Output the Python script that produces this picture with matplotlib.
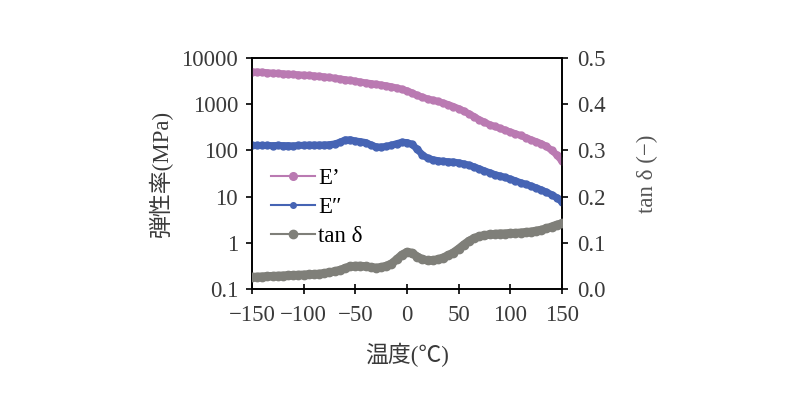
import matplotlib
matplotlib.use("Agg")
import matplotlib.pyplot as plt
from matplotlib.lines import Line2D

plt.rcParams['font.family'] = ['Liberation Serif', 'Noto Sans CJK JP', 'DejaVu Sans']
plt.rcParams['axes.unicode_minus'] = True

temperature = [-150, -145, -140, -135, -130, -125, -120, -115, -110, -105,
               -100, -95, -90, -85, -80, -75, -70, -65, -60, -55,
               -50, -45, -40, -35, -30, -25, -20, -15, -10, -5,
               0, 5, 10, 15, 20, 25, 30, 35, 40, 45,
               50, 55, 60, 65, 70, 75, 80, 85, 90, 95,
               100, 105, 110, 115, 120, 125, 130, 135, 140, 145, 150]

e_storage = [5000, 4950, 4900, 4800, 4700, 4620, 4550, 4480, 4400, 4320,
             4250, 4180, 4100, 4000, 3900, 3780, 3650, 3520, 3400, 3280,
             3150, 3020, 2900, 2800, 2700, 2600, 2500, 2380, 2250, 2100,
             1950, 1750, 1550, 1420, 1300, 1220, 1150, 1060, 980, 890,
             800, 710, 620, 540, 460, 410, 360, 330, 300, 275,
             250, 230, 210, 190, 170, 155, 140, 122, 100, 80, 58]

e_loss = [128, 128, 128, 128, 127, 128, 127, 127, 125, 128,
          129, 130, 130, 130, 131, 133, 138, 150, 168, 170,
          160, 155, 148, 132, 120, 118, 122, 130, 140, 150,
          148, 135, 105, 80, 68, 63, 60, 58, 57, 56,
          54, 51, 48, 44, 40, 36, 33, 30, 28, 26,
          24, 22, 20, 18.5, 17, 15.5, 14, 12.5, 11, 9.5, 7.6]

tan_delta = [0.026, 0.0265, 0.027, 0.0275, 0.028, 0.0285, 0.029, 0.0295, 0.030, 0.0305,
             0.031, 0.0315, 0.032, 0.033, 0.034, 0.036, 0.038, 0.041, 0.045, 0.049,
             0.050, 0.050, 0.049, 0.047, 0.046, 0.047, 0.050, 0.055, 0.064, 0.074,
             0.080, 0.078, 0.070, 0.064, 0.062, 0.062, 0.064, 0.068, 0.073, 0.079,
             0.087, 0.096, 0.104, 0.110, 0.114, 0.116, 0.118, 0.119, 0.120, 0.120,
             0.121, 0.121, 0.122, 0.123, 0.124, 0.126, 0.128, 0.131, 0.135, 0.139, 0.142]

x_ticks = [-150, -100, -50, 0, 50, 100, 150]
left_ticks = [0.1, 1, 10, 100, 1000, 10000]
left_labels = ['0.1', '1', '10', '100', '1000', '10000']
right_ticks = [0.0, 0.1, 0.2, 0.3, 0.4, 0.5]

c_pink = '#BA7AB2'
c_blue = '#4664B4'
c_gray = '#7F7F79'
c_text = '#3A3A3A'

fig = plt.figure(figsize=(8.01, 3.97), dpi=100)
ax = fig.add_axes([0.3146, 0.272, 0.387, 0.582])
ax2 = ax.twinx()

ax.plot(temperature, e_storage, color=c_pink, lw=5, marker='o', ms=5, solid_capstyle='round', zorder=3)
ax.plot(temperature, e_loss, color=c_blue, lw=5, marker='o', ms=5, solid_capstyle='round', zorder=3)
ax2.plot(temperature, tan_delta, color=c_gray, lw=6, marker='o', ms=6, solid_capstyle='round', zorder=3)

ax.set_yscale('log')
ax.set_xlim(-150, 150)
ax.set_ylim(0.1, 10000)
ax2.set_ylim(0, 0.5)
ax.set_xticks(x_ticks)
ax.set_xticklabels([f'{t:d}'.replace('-', '\u2212') for t in x_ticks])
ax.set_yticks(left_ticks)
ax.set_yticklabels(left_labels)
ax.yaxis.set_minor_locator(matplotlib.ticker.NullLocator())
ax2.set_yticks(right_ticks)
ax2.set_yticklabels([f'{v:.1f}' for v in right_ticks])

fs = 16.5
ax.tick_params(axis='x', direction='inout', length=7, width=1.2, labelsize=fs, pad=8, labelcolor=c_text)
ax.tick_params(axis='y', direction='out', length=4, width=1.2, labelsize=fs, pad=6, labelcolor=c_text)
ax2.tick_params(axis='y', direction='out', length=4, width=1.2, labelsize=fs, pad=7, labelcolor=c_text)
for a in (ax, ax2):
    for s in a.spines.values():
        s.set_linewidth(1.2)

ax.set_xlabel('温度(℃)', fontsize=fs, labelpad=12, color=c_text)
ax.set_ylabel('弾性率(MPa)', fontsize=fs, labelpad=6, color=c_text)
ax2.set_ylabel('tan δ (−)', fontsize=fs, labelpad=22, color='#555555')

handles = [Line2D([], [], color=c_pink, lw=1.5, marker='o', ms=5.5),
           Line2D([], [], color=c_blue, lw=1.5, marker='o', ms=4),
           Line2D([], [], color=c_gray, lw=1.5, marker='o', ms=6)]
ax.legend(handles, ['E\u2019', 'E\u2033', 'tan δ'], loc='upper left',
          bbox_to_anchor=(-0.005, 0.615), frameon=False, fontsize=fs,
          handlelength=1.9, handletextpad=0.15, labelspacing=0.35)

fig.savefig('out.png', dpi=100)
